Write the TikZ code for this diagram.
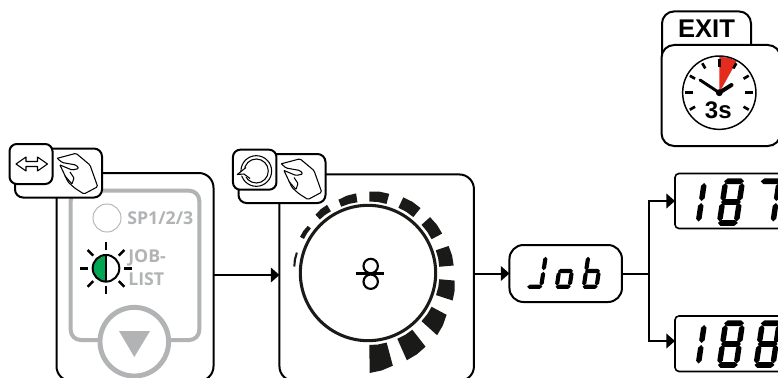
\documentclass[tikz,border=0pt]{standalone}
\usepackage{fontspec}
\setmainfont{Liberation Sans}
\newfontfamily\ofont{Open Sans}
\usetikzlibrary{arrows.meta,calc}
\definecolor{pgray}{HTML}{B1B3B4}
\definecolor{ledgreen}{HTML}{00A651}
\definecolor{wedgered}{HTML}{E32B1E}
\definecolor{inkdark}{HTML}{1A1A18}
\tikzset{
  sz/.style 2 args={minimum width=#1*0.75pt,minimum height=#2*0.75pt},
  box/.style={draw=black,fill=white,line width=1.5pt,inner sep=0pt,outer sep=0pt},
  thinicon/.style={draw=black,line width=0.8pt,line join=round},
  arr/.style={draw=black,line width=1.5pt,-{Triangle[length=6.5pt,width=11pt]}},
  conn/.style={draw=black,line width=1.5pt},
  graytext/.style={text=pgray,font=\ofont\bfseries\fontsize{13.3}{13.3}\selectfont,inner sep=0pt,anchor=west},
  segf/.style={fill=black,draw=none},
}
% seven-segment pieces
\newcommand\hsegm[1]{\fill[segf] (1.5,#1) -- (4.5,#1-2.9) -- (17.5,#1-2.9) -- (20.5,#1) -- (17.5,#1+2.9) -- (4.5,#1+2.9) -- cycle;}
\newcommand\vsegm[3]{\fill[segf] (#1,#2) -- (#1+2.6,#2+2.8) -- (#1+2.6,#3-2.8) -- (#1,#3) -- (#1-2.6,#3-2.8) -- (#1-2.6,#2+2.8) -- cycle;}
\newcommand\sega{\hsegm{3.3}}
\newcommand\segg{\hsegm{24}}
\newcommand\segd{\hsegm{45}}
\newcommand\segf{\vsegm{3}{5}{23}}
\newcommand\sege{\vsegm{3}{25}{43.5}}
\newcommand\segb{\vsegm{19}{5}{23}}
\newcommand\segc{\vsegm{19}{25}{43.5}}
\newcommand\sevdigit[5]{\begin{scope}[shift={(#1,#2)},xslant=0.15,yscale=#3,xscale=#4]\foreach \s in {#5}{\csname seg\s\endcsname}\end{scope}}
\newcommand\handicon{%
  \draw[thinicon,rounded corners=1pt] (57.3,158.3) -- (76,153.3) -- (90,165) -- (97.7,186.7) -- (84,194) -- (75,188.3) -- (68,182) -- (60,165);
  \draw[thinicon,rounded corners=1pt] (57.3,158.3) -- (62,162.5) -- (76,165) -- (79,168.5) -- (72,170) -- (60,165);
  \draw[thinicon,rounded corners=0.6pt] (65,176) -- (72,184) -- (74,178) -- (70,172);
}
\begin{document}
\begin{tikzpicture}[x=0.75pt,y=-0.75pt]
\useasboundingbox (0,0) rectangle (778,378);
\clip (0,0) rectangle (778,378);
\coordinate (y1) at (0,275);
\coordinate (y3) at (0,341);
\coordinate (br) at (649,273.5);
% panels
\node[box,sz={157}{208},rounded corners=11pt] (p1) at (135,277) {};
\node[box,sz={194.5}{206.5},rounded corners=11pt] (p2) at (376.7,277.7) {};
% panel 1 content
\draw[pgray,line width=3pt,rounded corners=7.5pt] (70.7,340) rectangle (199.3,190.7);
\node[draw=pgray,fill=white,line width=3.7pt,circle,minimum size=51.5pt,inner sep=0pt] (knob) at (134.3,341.7) {};
\fill[pgray] (119,331) -- (150,331) -- (134.3,357) -- cycle;
\node[draw=pgray,line width=0.7pt,circle,minimum size=21pt,inner sep=0pt] (sp) at (107,218) {};
\node[graytext] (sptext) at (127,218) {SP1/2/3};
\node[graytext] (jobtext) at (128,258) {JOB-};
\node[graytext] (listtext) at (128,279) {LIST};
\node[draw=none,fill=white,circle,minimum size=21pt,inner sep=0pt] (led) at (106,268.3) {};
\begin{scope}
  \clip (90,250) rectangle (106,286);
  \fill[ledgreen] (106,268.3) circle[radius=10pt];
\end{scope}
\draw[black,line width=1.5pt] (106,268.3) circle[radius=10pt];
\draw[black,line width=1.5pt] (106,255) -- (106,281.6);
\foreach \a in {0,45,...,315}{
  \draw[black,line width=1.9pt] ($(106,268.3)+(\a:18)$) -- ($(106,268.3)+(\a:26)$);
}
% panel 2 content
\node[draw=inkdark,fill=none,line width=2.3pt,circle,minimum size=101.5pt,inner sep=0pt] (ring) at (368,273) {};
\foreach \a/\b/\oa/\ob/\i in {89/75/100/96/72,66/52/95.5/93.5/72,42/28/93/89/72,18/5/89/87/71.5,-5/-18.5/86/85/71.5,-28/-42/84/83.5/72,-51/-65/83.5/83.5/72,-75/-89/82/81.5/71.5,-98.5/-112/80.5/79/71.5,-121/-132/79.5/78.5/72,-142/-152/76.5/77/72.5,-164/-175/75/75/73}{
  \pgfmathsetmacro\m{(\a+\b)/2}
  \pgfmathsetmacro\om{(\oa+\ob)/2+0.4}
  \pgfmathsetmacro\iq{\i+0.2}
  \fill[inkdark] ($(ring.center)+(\a:\i)$) -- ($(ring.center)+(\m:\iq)$) -- ($(ring.center)+(\b:\i)$) -- ($(ring.center)+(\b:\ob)$) -- ($(ring.center)+(\m:\om)$) -- ($(ring.center)+(\a:\oa)$) -- cycle;
}
\draw[black,line width=1.6pt] (370.7,266) circle[radius=5.4pt];
\draw[black,line width=1.6pt] (370.7,281.7) circle[radius=5.4pt];
\draw[black,line width=1.6pt] (355.7,273.5) -- (384.3,273.5);
% tabs
\node[box,sz={87}{49},rounded corners=6pt] (tab1) at (58.5,173) {};
\handicon
\node[box,sz={43}{40},rounded corners=5.5pt] (key1) at (31,164) {};
\draw[thinicon] (16,164) -- (26,157) -- (26,161.5) -- (37.5,161.5) -- (37.5,157) -- (47.5,164) -- (37.5,171) -- (37.5,166.5) -- (26,166.5) -- (26,171) -- cycle;
\node[box,sz={87}{49},rounded corners=6pt] (tab2) at (282,178.5) {};
\begin{scope}[shift={(224,5.5)}]
\handicon
\end{scope}
\node[box,sz={43.5}{40},rounded corners=5.5pt] (key2) at (254.7,169.7) {};
\draw[thinicon] (256.3,171) circle[radius=11.5pt];
\draw[thinicon] (256.3,171) circle[radius=9pt];
\fill[white] (237.3,174.5) -- (246,167) -- (250,178) -- cycle;
\draw[thinicon] (246,167.5) -- (237.3,174.5) -- (244,174) -- (250,178.5);
% Job
\node[box,sz={112.5}{57},rounded corners=10.5pt] (job) at (565.7,273.5) {};
\sevdigit{531}{253}{0.75}{0.8}{b,c,d}
\sevdigit{559.4}{253}{0.75}{0.8}{g,c,d,e}
\sevdigit{586.4}{253}{0.75}{0.8}{f,e,g,c,d}
% displays
\node[box,line width=1.2pt,sz={125}{55},rounded corners=3pt] (d1) at (737.5,201) {};
\node[box,line width=1.2pt,sz={125}{55.5},rounded corners=3pt] (d2) at (737.5,343.7) {};
\sevdigit{685}{178}{1}{1.05}{b,c}
\sevdigit{723}{178}{1}{1.05}{a,b,c,d,e,f,g}
\sevdigit{759.7}{178}{1}{1.05}{a,b,c}
\sevdigit{685}{320}{1}{1.05}{b,c}
\sevdigit{723}{320}{1}{1.05}{a,b,c,d,e,f,g}
\sevdigit{759.7}{320}{1}{1.05}{a,b,c,d,e,f,g}
% EXIT
\node[box,sz={89}{58.5},rounded corners=9pt] (exittab) at (706.5,40.7) {};
\node[inner sep=0pt,font=\bfseries\fontsize{19.2}{19.2}\selectfont] (exittext) at (706.5,28.5) {EXIT};
\node[box,sz={119}{101},rounded corners=9.5pt] (exitbox) at (721,95.5) {};
\coordinate (cc) at (719.3,92.7);
\fill[wedgered] (cc) -- ($(cc)+(-90:36)$) -- ($(cc)+(-75:36)$) -- ($(cc)+(-61:36)$) -- cycle;
\node[draw=black,line width=1.1pt,circle,minimum size=55pt,inner sep=0pt] (clock) at (cc) {};
\foreach \a/\r in {-90/26,-60/28,-30/28,0/26,30/28,150/28,180/26,210/28,240/28}{
  \draw[black,line width=2pt] ($(cc)+(\a:\r)$) -- ($(cc)+(\a:34)$);
}
\draw[black,line width=2.2pt,line cap=round] (cc) -- (700,80);
\draw[black,line width=3pt,line cap=round] (cc) -- (731.5,85);
\fill[black] (cc) circle[radius=2.6pt];
\node[inner sep=0pt,font=\bfseries\fontsize{18}{18}\selectfont] (clocktext) at (718.3,110.5) {3s};
% connectors
\draw[arr] (p1.east |- y1) -- (p2.west |- y1);
\draw[arr] (p2.east |- job.west) -- (job.west);
\draw[conn] (job.east) -- (br);
\draw[arr] (br) |- (d1.west);
\draw[arr] (br) |- (d2.west |- y3);
\end{tikzpicture}
\end{document}
